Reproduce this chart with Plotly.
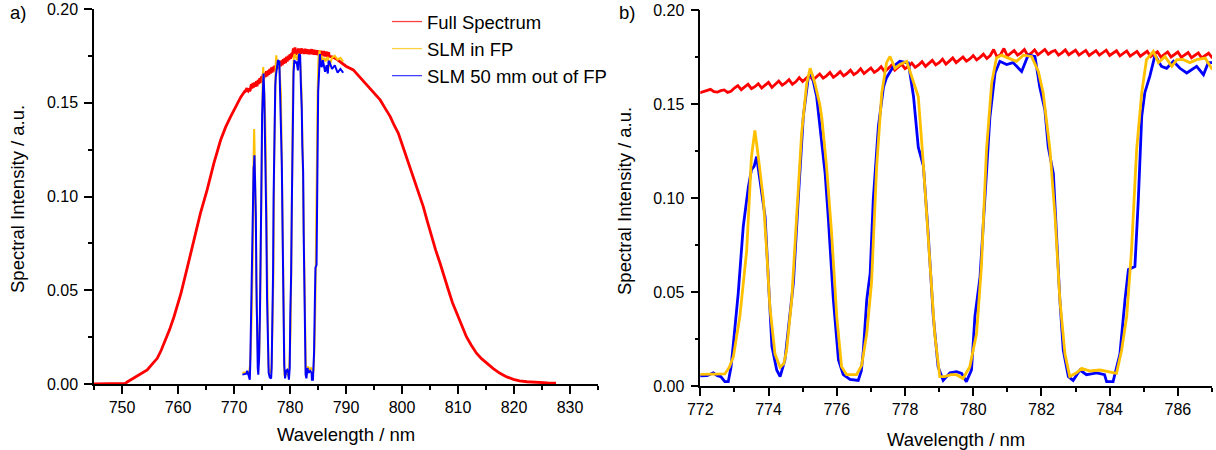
import numpy as np
import plotly.graph_objects as go

# ---------------- data ----------------
# Full spectrum: coarse readings on the blue side of the zoom window
full_wl_lo = [745, 746, 747, 748, 749, 750, 750.6, 751, 752, 752.7, 753.5, 754.5, 755.5, 756.3, 757,
              757.8, 758.5, 759.3, 760.5, 761.7, 762.9, 764.0, 765.2, 766.4, 767.6, 768.5, 769.4,
              770.3, 771.2, 771.9]
full_int_lo = [0, 0, 0, 0, 0, 0, 0.0003, 0.0012, 0.003, 0.004, 0.0058, 0.0075, 0.011, 0.0137, 0.018,
               0.0235, 0.029, 0.036, 0.048, 0.0626, 0.0768, 0.091, 0.1035, 0.1177, 0.130, 0.137, 0.1426,
               0.148, 0.153, 0.156]

# Full spectrum: detailed readings inside the zoom window (772-787 nm, 0.1 nm grid)
full_wl_zoom = list(np.round(np.arange(772.0, 787.05, 0.1), 1))
full_int_zoom = [
    0.1560, 0.1565, 0.1572, 0.1578, 0.1566, 0.1563, 0.1571, 0.1575, 0.1562, 0.1568,
    0.1585, 0.1598, 0.1576, 0.1590, 0.1605, 0.1582, 0.1592, 0.1608, 0.1585, 0.1600,
    0.1615, 0.1588, 0.1605, 0.1622, 0.1600, 0.1612, 0.1630, 0.1605, 0.1618, 0.1640,
    0.1620, 0.1635, 0.1652, 0.1628, 0.1645, 0.1660, 0.1638, 0.1650, 0.1668, 0.1642,
    0.1655, 0.1672, 0.1650, 0.1662, 0.1680, 0.1656, 0.1668, 0.1688, 0.1662, 0.1675,
    0.1692, 0.1668, 0.1680, 0.1698, 0.1672, 0.1688, 0.1705, 0.1680, 0.1695, 0.1712,
    0.1688, 0.1700, 0.1718, 0.1695, 0.1708, 0.1725, 0.1700, 0.1715, 0.1732, 0.1708,
    0.1720, 0.1738, 0.1712, 0.1728, 0.1745, 0.1720, 0.1735, 0.1750, 0.1728, 0.1740,
    0.1758, 0.1735, 0.1748, 0.1765, 0.1742, 0.1758, 0.1790, 0.1750, 0.1762, 0.1795,
    0.1755, 0.1768, 0.1785, 0.1760, 0.1772, 0.1790, 0.1758, 0.1770, 0.1788, 0.1762,
    0.1775, 0.1790, 0.1765, 0.1778, 0.1785, 0.1760, 0.1772, 0.1788, 0.1762, 0.1775,
    0.1786, 0.1760, 0.1772, 0.1785, 0.1758, 0.1770, 0.1784, 0.1760, 0.1772, 0.1786,
    0.1758, 0.1770, 0.1783, 0.1756, 0.1768, 0.1782, 0.1755, 0.1767, 0.1780, 0.1754,
    0.1766, 0.1780, 0.1752, 0.1765, 0.1778, 0.1750, 0.1764, 0.1777, 0.1750, 0.1762,
    0.1776, 0.1748, 0.1760, 0.1774, 0.1746, 0.1758, 0.1772, 0.1745, 0.1757, 0.1770,
    0.1748]

# Full spectrum: coarse readings on the red side
full_wl_hi = [787.5, 788.2, 789.0, 790.0, 791.3, 792.5, 793.7, 795.0, 796.1, 797.0, 797.9, 798.6, 799.35,
              800.0, 800.8, 801.5, 802.3, 803.0, 803.8, 804.5, 805.3, 806.0, 806.8, 807.5, 808.3, 809.0,
              809.8, 810.6, 811.5, 812.4, 813.3, 814.2, 815.1, 816.3, 817.5, 818.7, 819.9, 821.0, 822.3,
              823.5, 824.6, 826.0, 827.5]
full_int_hi = [0.1745, 0.1735, 0.1715, 0.1695, 0.1675, 0.1635, 0.1595, 0.1555, 0.1515, 0.147, 0.1426,
               0.138, 0.1337, 0.128, 0.121, 0.115, 0.1088, 0.1015, 0.0946, 0.087, 0.0786, 0.0715, 0.0644,
               0.057, 0.050, 0.0435, 0.0377, 0.031, 0.0252, 0.0205, 0.0164, 0.0135, 0.011, 0.0082,
               0.0057, 0.0038, 0.0025, 0.0017, 0.0012, 0.0009, 0.0007, 0.0006, 0.0005]

# SLM 50 mm out of Fourier plane (blue)
out_wl = [771.5, 771.8, 772.0, 772.2, 772.38, 772.5, 772.6, 772.72, 772.82, 772.9, 772.97, 773.11,
          773.26, 773.41, 773.5, 773.58, 773.65, 773.75, 773.9, 774.0, 774.1, 774.24, 774.34, 774.48,
          774.63, 774.73, 774.87, 775.02, 775.17, 775.27, 775.41, 775.5, 775.56, 775.66, 775.75, 775.9,
          776.05, 776.19, 776.39, 776.63, 776.72, 776.78, 776.88, 776.98, 777.07, 777.22, 777.37,
          777.46, 777.66, 777.85, 778.1, 778.25, 778.39, 778.54, 778.68, 778.83, 778.97, 779.12,
          779.32, 779.51, 779.66, 779.8, 779.95, 780.05, 780.2, 780.34, 780.49, 780.64, 780.78,
          780.98, 781.17, 781.42, 781.61, 781.81, 781.95, 782.1, 782.2, 782.35, 782.44, 782.54,
          782.64, 782.79, 782.93, 783.13, 783.32, 783.62, 783.85, 783.91, 784.1, 784.3, 784.45,
          784.55, 784.74, 784.84, 784.94, 785.03, 785.18, 785.33, 785.52, 785.67, 785.87, 786.06,
          786.26, 786.4, 786.55, 786.75, 786.89, 787.04, 787.5, 788.0, 788.5, 789.0, 789.5]
out_int = [0.0050, 0.0052, 0.0053, 0.0055, 0.0070, 0.0055, 0.0050, 0.0023, 0.0023, 0.0100, 0.0227, 0.049,
           0.085, 0.106, 0.115, 0.117, 0.122, 0.110, 0.090, 0.055, 0.021, 0.0085, 0.005, 0.0138,
           0.037, 0.055, 0.099, 0.1434, 0.1647, 0.1656, 0.154, 0.140, 0.131, 0.113, 0.090, 0.046,
           0.0138, 0.006, 0.0035, 0.003, 0.008, 0.019, 0.046, 0.060, 0.099, 0.138, 0.159,
           0.164, 0.170, 0.1727, 0.1718, 0.154, 0.127, 0.117, 0.081, 0.037, 0.0103, 0.003,
           0.007, 0.0076, 0.0067, 0.0023, 0.0085, 0.037, 0.058, 0.099, 0.143, 0.1665, 0.1727,
           0.171, 0.172, 0.1673, 0.176, 0.1753, 0.159, 0.147, 0.127, 0.113, 0.081, 0.046,
           0.019, 0.005, 0.003, 0.0085, 0.006, 0.007, 0.006, 0.0023, 0.0023, 0.017, 0.046,
           0.062, 0.0635, 0.099, 0.1434, 0.156, 0.165, 0.176, 0.170, 0.169, 0.1727, 0.169,
           0.1665, 0.168, 0.170, 0.1656, 0.172, 0.172, 0.168, 0.170, 0.166, 0.168, 0.166]

# SLM in Fourier plane (yellow)
in_wl = [771.5, 772.0, 772.4, 772.72, 772.85, 772.97, 773.16, 773.36, 773.5, 773.6, 773.7, 773.85,
         773.95, 774.04, 774.19, 774.34, 774.45, 774.53, 774.68, 774.83, 774.97, 775.12, 775.22,
         775.36, 775.5, 775.56, 775.7, 775.85, 776.0, 776.14, 776.29, 776.58, 776.73, 776.88,
         777.02, 777.17, 777.32, 777.46, 777.56, 777.71, 777.85, 778.05, 778.2, 778.39, 778.53,
         778.73, 778.87, 779.02, 779.16, 779.35, 779.51, 779.7, 779.9, 780.1, 780.24, 780.39,
         780.54, 780.68, 780.83, 781.03, 781.27, 781.47, 781.71, 781.91, 782.05, 782.25, 782.4,
         782.54, 782.69, 782.83, 783.03, 783.18, 783.42, 783.72, 784.0, 784.2, 784.35, 784.5,
         784.64, 784.79, 784.94, 785.08, 785.28, 785.43, 785.62, 785.82, 785.97, 786.16, 786.35,
         786.55, 786.8, 786.99, 787.5, 788.0, 788.5, 789.0, 789.5]
in_int = [0.0060, 0.0062, 0.0064, 0.0064, 0.010, 0.0156, 0.037, 0.072, 0.122, 0.136, 0.122, 0.099,
          0.0706, 0.042, 0.017, 0.010, 0.012, 0.019, 0.046, 0.095, 0.1345, 0.161, 0.169,
          0.161, 0.150, 0.143, 0.117, 0.081, 0.037, 0.0103, 0.006, 0.006, 0.011, 0.028,
          0.055, 0.117, 0.156, 0.172, 0.1753, 0.169, 0.171, 0.1727, 0.164, 0.154, 0.120,
          0.0635, 0.028, 0.005, 0.005, 0.006, 0.006, 0.004, 0.0103, 0.028, 0.0635, 0.1256,
          0.161, 0.1744, 0.176, 0.1744, 0.1727, 0.176, 0.1753, 0.1673, 0.156, 0.1256, 0.090,
          0.046, 0.017, 0.005, 0.007, 0.0094, 0.008, 0.0085, 0.0076, 0.0067, 0.019, 0.037,
          0.072, 0.1256, 0.156, 0.1736, 0.178, 0.172, 0.1753, 0.170, 0.1736, 0.1736, 0.172,
          0.1736, 0.1744, 0.169, 0.174, 0.175, 0.173, 0.174, 0.172]

series_names = ["Full Spectrum", "SLM in FP", "SLM 50 mm out of FP"]
series_colors = ["#ff0000", "#ffc000", "#0000ff"]

assert len(full_wl_lo) == len(full_int_lo)
assert len(full_wl_zoom) == len(full_int_zoom)
assert len(full_wl_hi) == len(full_int_hi)
assert len(out_wl) == len(out_int)
assert len(in_wl) == len(in_int)

full_wl = full_wl_lo + full_wl_zoom + full_wl_hi
full_int = full_int_lo + full_int_zoom + full_int_hi

# ---------------- layout helpers ----------------
W, H = 1216, 450
FONT = "Liberation Sans, Arial, sans-serif"


def px(x):
    return x / W


def py(y):
    return 1 - y / H


fig = go.Figure()

# Panel a
fig.add_trace(go.Scatter(x=full_wl, y=full_int, mode="lines", name=series_names[0],
                         line=dict(color=series_colors[0], width=2.8), xaxis="x", yaxis="y",
                         showlegend=False))
fig.add_trace(go.Scatter(x=in_wl, y=in_int, mode="lines", name=series_names[1],
                         line=dict(color=series_colors[1], width=2), xaxis="x", yaxis="y",
                         showlegend=False))
fig.add_trace(go.Scatter(x=out_wl, y=out_int, mode="lines", name=series_names[2],
                         line=dict(color=series_colors[2], width=2), xaxis="x", yaxis="y",
                         showlegend=False))
# Panel b
fig.add_trace(go.Scatter(x=full_wl, y=full_int, mode="lines", name=series_names[0],
                         line=dict(color=series_colors[0], width=2.8), xaxis="x2", yaxis="y2",
                         showlegend=False))
fig.add_trace(go.Scatter(x=out_wl, y=out_int, mode="lines", name=series_names[2],
                         line=dict(color=series_colors[2], width=2.8), xaxis="x2", yaxis="y2",
                         showlegend=False))
fig.add_trace(go.Scatter(x=in_wl, y=in_int, mode="lines", name=series_names[1],
                         line=dict(color=series_colors[1], width=2.8), xaxis="x2", yaxis="y2",
                         showlegend=False))
# Legend entries (thin sample lines, as in the original legend)
for name, color in zip(series_names, series_colors):
    fig.add_trace(go.Scatter(x=[None], y=[None], mode="lines", name=name,
                             line=dict(color=color, width=1.3), opacity=0.75,
                             xaxis="x", yaxis="y", showlegend=True, hoverinfo="skip"))

axis_common = dict(showgrid=False, zeroline=False, showline=True, linecolor="black", linewidth=1.5,
                   ticks="outside", ticklen=8, tickwidth=1.5, tickcolor="black", automargin=False,
                   tickfont=dict(family=FONT, size=16, color="black"))
minor_common = dict(ticklen=4, tickwidth=1.5, tickcolor="black", ticks="outside", showgrid=False)

fig.update_layout(
    template="none",
    width=W, height=H,
    margin=dict(l=0, r=0, t=0, b=0, pad=0, autoexpand=False),
    paper_bgcolor="white", plot_bgcolor="white",
    font=dict(family=FONT, size=16, color="black"),
    xaxis=dict(domain=[px(94), px(598)], range=[745, 835], dtick=10, tick0=750,
               minor=dict(dtick=5, **minor_common), anchor="y", **axis_common),
    yaxis=dict(domain=[py(384), py(9)], range=[0, 0.2], dtick=0.05, tickformat=".2f",
               ticklabelstandoff=3,
               minor=dict(dtick=0.025, **minor_common), anchor="x", **axis_common),
    xaxis2=dict(domain=[px(700.3), px(1212)], range=[772, 787], dtick=2, tick0=772,
                minor=dict(dtick=1, **minor_common), anchor="y2", **axis_common),
    yaxis2=dict(domain=[py(386), py(10)], range=[0, 0.2], dtick=0.05, tickformat=".2f",
                ticklabelstandoff=3,
                minor=dict(dtick=0.025, **minor_common), anchor="x2", **axis_common),
    legend=dict(x=px(387), y=py(3), xanchor="left", yanchor="top", bgcolor="rgba(0,0,0,0)",
                borderwidth=0, font=dict(family=FONT, size=18.5, color="black"),
                tracegroupgap=0, traceorder="normal"),
    showlegend=True,
)

ann_font = dict(family=FONT, size=18.5, color="black")
annotations = [
    dict(text="a)", x=px(8), y=py(13), xanchor="left", yanchor="middle"),
    dict(text="b)", x=px(617), y=py(13), xanchor="left", yanchor="middle"),
    dict(text="Spectral Intensity / a.u.", x=px(17), y=py(199), xanchor="center", yanchor="middle",
         textangle=-90),
    dict(text="Spectral Intensity / a.u.", x=px(624), y=py(201), xanchor="center", yanchor="middle",
         textangle=-90),
    dict(text="Wavelength / nm", x=px(346), y=py(434), xanchor="center", yanchor="middle"),
    dict(text="Wavelength / nm", x=px(956), y=py(439), xanchor="center", yanchor="middle"),
]
for a in annotations:
    a.update(xref="paper", yref="paper", showarrow=False, font=ann_font)
fig.update_layout(annotations=annotations)

fig.write_html("out.html", config={"displayModeBar": False},
               post_script="document.body.style.margin='0px';")
